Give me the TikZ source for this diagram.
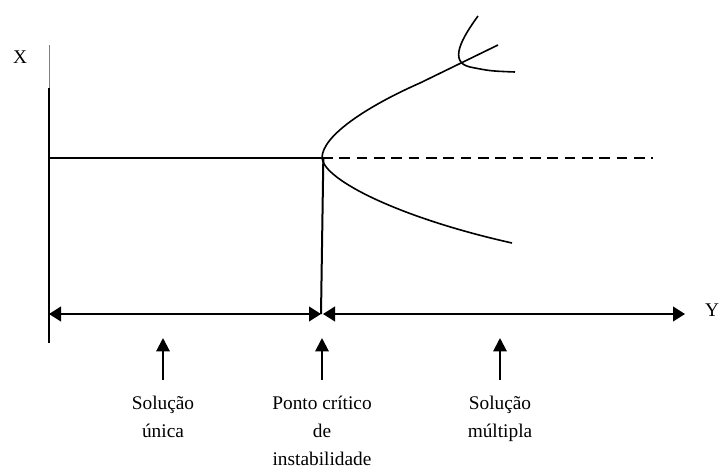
\documentclass[tikz,border=0pt]{standalone}
\usepackage{fontspec}
\setmainfont{Liberation Serif}
\usetikzlibrary{arrows.meta}

\begin{document}
\begin{tikzpicture}[x=0.75pt,y=-0.75pt,
    axisline/.style={line width=1.5pt},
    branch/.style={line width=1.2pt},
    tip/.style={-{Triangle[length=10pt,width=10pt]}},
    bothtips/.style={{Triangle[length=9pt,width=11pt]}-{Triangle[length=9pt,width=11pt]}},
    lbl/.style={align=center,font=\fontsize{14.5}{21}\selectfont,inner sep=0pt}]
    \useasboundingbox (0,0) rectangle (721,475);

    % Vertical axis (X)
    \coordinate (xtop) at (49,45);
    \coordinate (xmid) at (49,88);
    \coordinate (xbot) at (49,343);
    \draw[gray,line width=0.6pt] (xtop) -- (xmid);
    \draw[axisline] (xmid) -- (xbot);
    \node[lbl] (xlab) at (20,57) {X};

    % Critical point and the stable branch
    \coordinate (crit) at (322,158);
    \coordinate (dashend) at (653,158);
    \coordinate (xstart) at (49,158);
    \draw[branch] (xstart) -- (crit);
    \draw[branch,dash pattern=on 8pt off 5pt] (crit) -- (dashend);

    % Bifurcation branches
    \coordinate (upbend) at (420,83);
    \coordinate (upend) at (498,45);
    \coordinate (lowend) at (512,243);
    \draw[branch] (crit) .. controls (322,135) and (370,105) .. (upbend) -- (upend);
    \draw[branch] (crit) .. controls (324,180) and (400,218) .. (lowend);

    % Second bifurcation at the top
    \coordinate (sectop) at (478,16);
    \coordinate (secend) at (515,72);
    \draw[branch] (sectop) .. controls (462,38) and (448,62) .. (470,67)
        .. controls (490,71) .. (secend);

    % Horizontal axis (Y) with the two regions
    \coordinate (ycrit) at (321,314);
    \coordinate (yleft) at (49,314);
    \coordinate (yright) at (685,314);
    \draw[axisline] ([xshift=1pt]crit) -- (ycrit);
    \draw[axisline,bothtips] (yleft) -- (ycrit);
    \draw[axisline,bothtips] ([xshift=1.5pt]ycrit) -- (yright);
    \node[lbl] (ylab) at (712,310) {Y};

    % Labels below the axis
    \node[lbl,anchor=north] (unica) at (163,396) {Solução\\única};
    \node[lbl,anchor=north] (ponto) at (322,396) {Ponto crítico\\de\\instabilidade};
    \node[lbl,anchor=north] (multipla) at (500,396) {Solução\\múltipla};

    % Pointers
    \foreach \n in {unica,ponto,multipla} {
        \draw[axisline,tip] ([yshift=12pt]\n.north) -- ++(0,-42);
    }
\end{tikzpicture}
\end{document}
